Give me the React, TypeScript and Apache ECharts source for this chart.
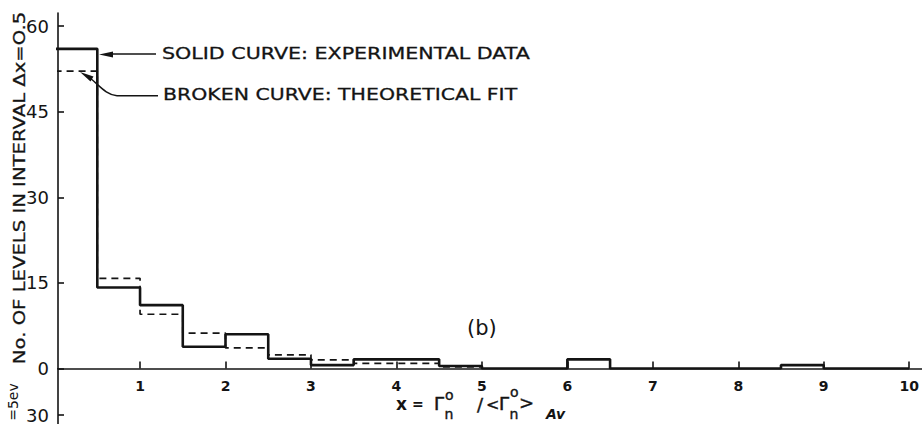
import React, { useEffect, useRef } from "react";
import * as echarts from "echarts";

// bin edges of width 0.5 from 0 to 10
const binEdges = [0, 0.5, 1, 1.5, 2, 2.5, 3, 3.5, 4, 4.5, 5, 5.5, 6, 6.5, 7, 7.5, 8, 8.5, 9, 9.5, 10];
// solid curve: experimental data (one value per bin)
const experimental = [56.0, 14.2, 11.1, 3.8, 6.0, 1.7, 0.6, 1.6, 1.6, 0.45, 0, 0, 1.6, 0, 0, 0, 0, 0.6, 0, 0];
// broken curve: theoretical fit (one value per bin, up to x = 5)
const theoretical = [52.1, 15.8, 9.5, 6.2, 3.6, 2.4, 1.5, 0.9, 0.9, 0.3];

const xTickValues = [1, 2, 3, 4, 5, 6, 7, 8, 9, 10];
const yTickValues = [0, 15, 30, 45, 60];
const lowerPanelLabel = "30";

const INK = "#141414";
const FONT = "DejaVu Sans";

function stepPoints(vals: number[]) {
  const pts: number[][] = [];
  vals.forEach((v, i) => {
    pts.push([binEdges[i], v]);
    pts.push([binEdges[i + 1], v]);
  });
  pts.push([binEdges[vals.length], 0]);
  return pts;
}

export default function App() {
  const ref = useRef<HTMLDivElement>(null);
  useEffect(() => {
    document.body.style.margin = "0";
    const chart = echarts.init(ref.current!, null, { renderer: "svg" });
    const txt = (text: string, x: number, y: number, size: number, extra: any = {}) => {
      const style: any = {
        text,
        fill: INK,
        font: `${extra.italic ? "italic " : ""}${extra.weight || "normal"} ${size}px ${FONT}`,
        align: extra.align || "left",
        verticalAlign: "middle",
        lineHeight: extra.lineHeight || size,
      };
      if (extra.stroke) {
        style.stroke = INK;
        style.lineWidth = extra.stroke;
      }
      return {
        type: "text",
        x,
        y,
        rotation: extra.rotation || 0,
        scaleX: extra.scaleX || 1,
        style,
      };
    };
    chart.setOption({
      animation: false,
      backgroundColor: "#ffffff",
      grid: { left: 58, right: 0, top: 13, bottom: 55.5, outerBoundsMode: "none", containLabel: false },
      xAxis: {
        type: "value",
        min: 0.04,
        max: 10.15,
        axisLine: { onZero: false, lineStyle: { color: INK, width: 1.6 } },
        axisTick: { inside: true, length: 7, customValues: xTickValues, lineStyle: { color: INK, width: 1.6 } },
        axisLabel: {
          customValues: xTickValues,
          color: INK,
          fontFamily: FONT,
          fontSize: 14,
          fontWeight: "bold",
          margin: 10,
        },
        splitLine: { show: false },
      },
      yAxis: {
        type: "value",
        min: 0,
        max: 62.28,
        axisLine: { show: true, onZero: false, lineStyle: { color: INK, width: 1.6 } },
        axisTick: { show: true, inside: true, length: 6, customValues: yTickValues, lineStyle: { color: INK, width: 1.6 } },
        axisLabel: {
          customValues: yTickValues,
          color: INK,
          fontFamily: FONT,
          fontSize: 18,
          margin: 9,
        },
        splitLine: { show: false },
      },
      series: [
        {
          name: "Theoretical fit",
          type: "line",
          data: stepPoints(theoretical),
          showSymbol: false,
          clip: true,
          lineStyle: { color: INK, width: 1.7, type: [7, 5] },
        },
        {
          name: "Experimental data",
          type: "line",
          data: stepPoints(experimental),
          showSymbol: false,
          clip: true,
          lineStyle: { color: INK, width: 2.6 },
        },
      ],
      graphic: [
        // y-axis continuation into the lower panel
        { type: "line", shape: { x1: 58, y1: 368, x2: 58, y2: 424 }, style: { stroke: INK, lineWidth: 1.6 } },
        { type: "line", shape: { x1: 58, y1: 415, x2: 64, y2: 415 }, style: { stroke: INK, lineWidth: 1.6 } },
        txt(lowerPanelLabel, 49, 415, 18, { align: "right" }),
        txt("=5ev", 13, 402, 14, { align: "center", rotation: Math.PI / 2 }),
        // y-axis title
        txt("No. OF LEVELS IN INTERVAL Δx=O.5", 19, 188, 16.5, { align: "center", rotation: Math.PI / 2, scaleX: 1.19, stroke: 0.3 }),
        // annotations
        txt("SOLID CURVE: EXPERIMENTAL DATA", 162, 53, 16.5, { scaleX: 1.25, stroke: 0.3 }),
        txt("BROKEN CURVE: THEORETICAL FIT", 163, 94, 16.5, { scaleX: 1.24, stroke: 0.3 }),
        txt("(b)", 467, 328, 21),
        // x-axis title
        txt("x", 396, 404, 17, { weight: "bold" }),
        txt("=", 412, 404, 14, { weight: "bold" }),
        txt("Γ", 434, 403, 18, { stroke: 0.5 }),
        txt("o", 445, 395, 14, { stroke: 0.4 }),
        txt("n", 444.5, 414, 14, { stroke: 0.4 }),
        txt("/", 477, 404, 18, { stroke: 0.4 }),
        txt("<", 486, 404, 16, { stroke: 0.4 }),
        txt("Γ", 499, 403, 18, { stroke: 0.5 }),
        txt("o", 510, 392, 14, { stroke: 0.4 }),
        txt("n", 509.5, 414, 14, { stroke: 0.4 }),
        txt(">", 519, 402, 18, { stroke: 0.4 }),
        txt("Av", 546, 414, 14, { weight: "bold", italic: true }),
        // arrow 1
        { type: "line", shape: { x1: 156, y1: 54, x2: 110, y2: 54 }, style: { stroke: INK, lineWidth: 1.4 } },
        { type: "polygon", shape: { points: [[99, 54.5], [113, 51.5], [113, 57.5]] }, style: { fill: INK } },
        // arrow 2
        { type: "line", shape: { x1: 158, y1: 95.7, x2: 117, y2: 95.7 }, style: { stroke: INK, lineWidth: 1.4 } },
        {
          type: "bezierCurve",
          shape: { x1: 117, y1: 95.7, cpx1: 106, cpy1: 95, cpx2: 99, cpy2: 85, x2: 90, y2: 78 },
          style: { stroke: INK, lineWidth: 1.4, fill: "none" },
        },
        { type: "polygon", shape: { points: [[80, 72], [93.5, 76.4], [90.5, 81.6]] }, style: { fill: INK } },
      ],
    });
    return () => chart.dispose();
  }, []);
  return <div ref={ref} style={{ width: 922, height: 424 }} />;
}
